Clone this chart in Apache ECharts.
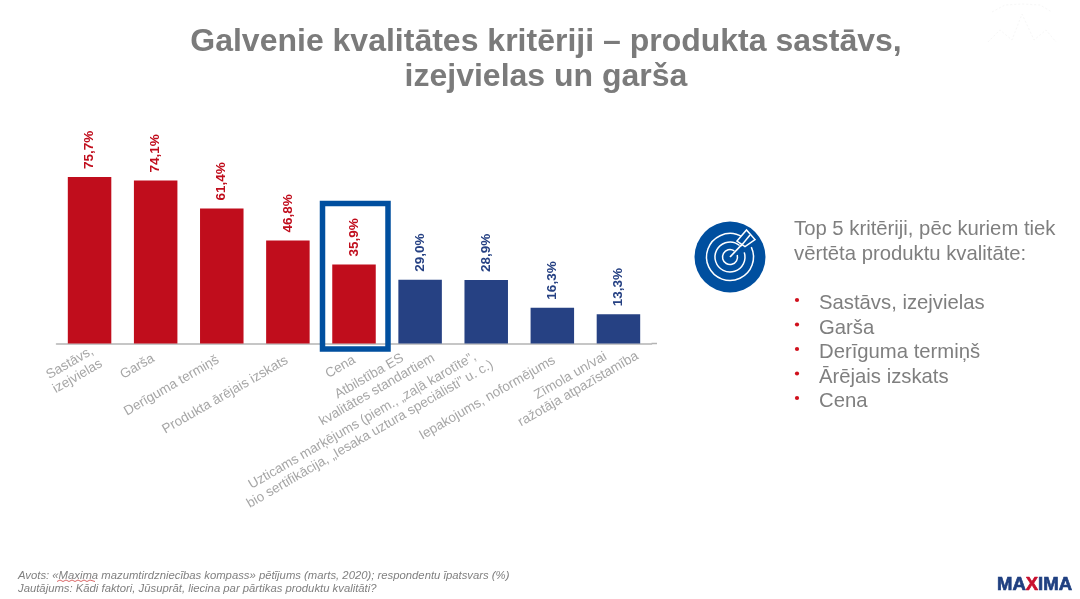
<!DOCTYPE html>
<html><head><meta charset="utf-8">
<style>html,body{margin:0;padding:0;background:#fff}#c{width:1080px;height:599px}</style>
<script src="https://cdn.jsdelivr.net/npm/echarts@6/dist/echarts.min.js"></script>
</head><body><div id="c"></div>
<script>
const categories = ["Sastāvs,\nizejvielas","Garša","Derīguma termiņš","Produkta ārējais izskats","Cena","Atbilstība ES\nkvalitātes standartiem","Uzticams marķējums (piem., „zaļā karotīte”,\nbio sertifikācija, „Iesaka uztura speciālisti” u. c.)","Iepakojums, noformējums","Zīmola un/vai\nražotāja atpazīstamība"];
const values = [75.7,74.1,61.4,46.8,35.9,29.0,28.9,16.3,13.3];
const topCount = 5;
const topList = ["Sastāvs, izejvielas","Garša","Derīguma termiņš","Ārējais izskats","Cena"];
const shiftX = [-15.8,-18.3,-50.2,-62.7,-13.5,-47,-120,-65,-44];
const shiftY = [26.2,23.2,42.2,51.5,23.5,39.5,84,54.5,39];
const RED='#c00d1c', NAVY='#264183', BLUE='#004f9f', GREY='#7f7f7f', FONT='"Liberation Sans",Arial,sans-serif';
const colorAt = i => i < topCount ? RED : NAVY;
const chart = echarts.init(document.getElementById('c'), null, {renderer:'canvas'});
const deg = Math.PI/180;
function ring(r, a0, a1){return {type:'arc',x:730,y:257,shape:{cx:0,cy:0,r:r,startAngle:a0*deg,endAngle:a1*deg,clockwise:true},style:{fill:null,stroke:'#fff',lineWidth:1.5},z:12};}
const graphics = [
 {type:'polyline',shape:{points:[[988,42],[1000,30],[1012,40],[1022,14],[1034,40],[1046,30],[1056,42]]},style:{fill:null,stroke:'#f7f7f7',lineWidth:1,lineDash:[2,2]}},
 {type:'polyline',shape:{points:[[992,12],[1005,5],[1022,4],[1040,5],[1052,12]]},style:{fill:null,stroke:'#f7f7f7',lineWidth:1,lineDash:[2,2]}},
 {type:'rect',shape:{x:322.5,y:203.5,width:65.5,height:145.5},style:{fill:null,stroke:BLUE,lineWidth:5.5},z:10},
 {type:'line',shape:{x1:651.5,y1:343.5,x2:657,y2:343.5},style:{stroke:'#b4b4b4',lineWidth:1.5}},
 {type:'circle',shape:{cx:730,cy:257,r:35.5},style:{fill:BLUE},z:11},
 ring(23.5,-25,-58+360), ring(15,-18,-50+360), ring(7.5,-15,-55+360),
 {type:'line',shape:{x1:730,y1:257,x2:750,y2:236},style:{stroke:'#fff',lineWidth:1.8},z:12},
 {type:'polygon',shape:{points:[[737,241],[746.5,230],[755,239.5],[745,246.5]]},style:{fill:BLUE,stroke:'#fff',lineWidth:1.5},z:12},
 {type:'line',shape:{x1:741,y1:246,x2:750,y2:235},style:{stroke:'#fff',lineWidth:1.5},z:13},
 {type:'text',x:794,y:229,style:{text:'Top 5 kritēriji, pēc kuriem tiek',font:'20.3px '+FONT,fill:GREY,verticalAlign:'middle'}},
 {type:'text',x:794,y:254,style:{text:'vērtēta produktu kvalitāte:',font:'20.3px '+FONT,fill:GREY,verticalAlign:'middle'}},
 {type:'text',x:18,y:576,style:{text:'Avots: «Maxima mazumtirdzniecības kompass» pētījums (marts, 2020); respondentu īpatsvars (%)',font:'italic 11.3px '+FONT,fill:'#808080',verticalAlign:'middle'}},
 {type:'text',x:18,y:589,style:{text:'Jautājums: Kādi faktori, Jūsuprāt, liecina par pārtikas produktu kvalitāti?',font:'italic 11.3px '+FONT,fill:'#808080',verticalAlign:'middle'}},
 {type:'polyline',shape:{points:[[57,581.5],[60,580],[63,581.5],[66,580],[69,581.5],[72,580],[75,581.5],[78,580],[81,581.5],[84,580],[87,581.5],[90,580],[95,581.5]]},style:{stroke:'#d04040',lineWidth:.8,fill:null}},
 {type:'text',x:997,y:585,style:{text:'{a|MA}{b|X}{a|IMA}',verticalAlign:'middle',rich:{a:{font:'bold 18.5px '+FONT,fill:'#1f3f80',stroke:'#1f3f80',lineWidth:.7},b:{font:'bold 18.5px '+FONT,fill:'#c8102e',stroke:'#c8102e',lineWidth:.7}}}}
];
topList.forEach((t,i)=>{
  const y = 303.5 + i*24.5;
  graphics.push({type:'circle',shape:{cx:797,cy:y-3.5,r:2.1},style:{fill:'#d0101c'}});
  graphics.push({type:'text',x:819,y:y,style:{text:t,font:'20.3px '+FONT,fill:GREY,verticalAlign:'middle'}});
});
chart.setOption({
 animation:false,backgroundColor:'#fff',
 title:{text:'Galvenie kvalitātes kritēriji – produkta sastāvs,\nizejvielas un garša',left:541,top:19,textAlign:'center',
   textStyle:{fontFamily:FONT,fontWeight:'bold',fontSize:32,lineHeight:35.5,color:'#7b7b7b'}},
 grid:{left:56.5,width:595,top:123.5,height:220},
 xAxis:{type:'category',data:categories,axisLine:{lineStyle:{color:'#b4b4b4',width:1.5}},axisTick:{show:false},axisLabel:{show:false}},
 yAxis:{type:'value',min:0,max:100,show:false,splitLine:{show:false}},
 graphic:graphics,
 series:[
  {type:'bar',barWidth:43.5,data:values.map((v,i)=>({value:v,itemStyle:{color:colorAt(i)},label:{color:colorAt(i)}})),
   label:{show:true,position:'top',rotate:90,align:'left',verticalAlign:'middle',distance:9,offset:[-1,0],fontFamily:FONT,fontWeight:'bold',fontSize:13.5,
     formatter:p=>p.value.toFixed(1).replace('.',',')+'%'}},
  {type:'custom',silent:true,clip:false,data:categories.map((c,i)=>i),encode:{x:0},z:5,
   renderItem:(params,api)=>{
     const i=params.dataIndex, p=api.coord([i,0]);
     return {type:'text',x:p[0]+shiftX[i],y:p[1]+shiftY[i],rotation:30*deg,
       style:{text:categories[i],align:'center',verticalAlign:'middle',font:'13.5px '+FONT,lineHeight:15.5,fill:'#a6a6a6'}};
   }}
 ]
});
</script></body></html>
